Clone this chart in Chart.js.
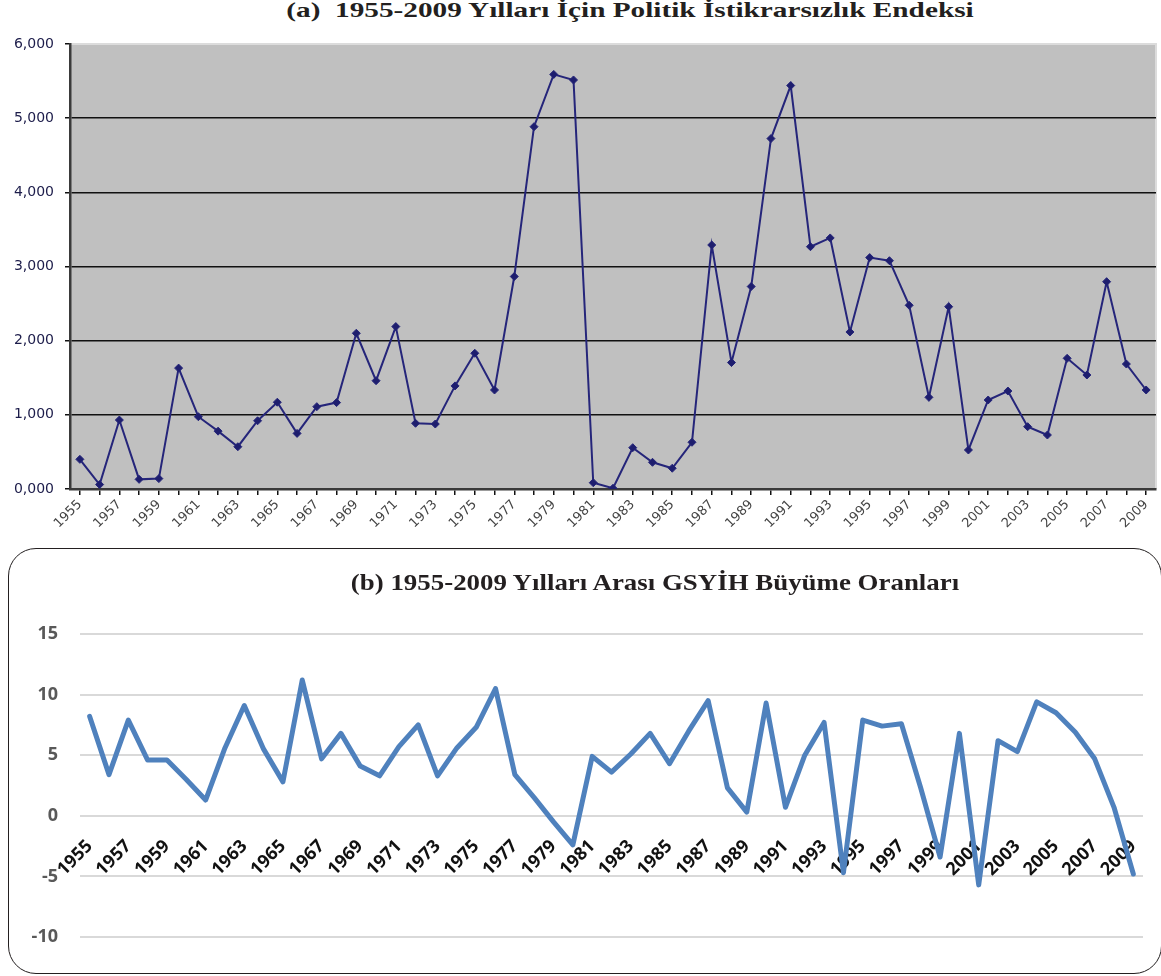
<!DOCTYPE html>
<html>
<head>
<meta charset="utf-8">
<script src="https://cdn.jsdelivr.net/npm/chart.js@4.4.1/dist/chart.umd.min.js"></script>
<style>
  body { margin: 0; background: #fff; overflow: hidden; width: 1161px; height: 976px; position: relative; }
  .title { position: absolute; font-family: "Liberation Serif", "Times New Roman", serif; font-weight: bold; color: #231f20; white-space: pre; line-height: 28px; text-align: center; }
  #titleA { left: 0; width: 1260px; top: -4px; font-size: 22px; transform: scaleX(1.33); transform-origin: 630px 50%; }
  #titleB { left: 0; width: 1310px; top: 568px; font-size: 24px; transform: scaleX(1.12); transform-origin: 655px 50%; z-index: 2; }
  #wrapA { position: absolute; left: 0; top: 0; width: 1161px; height: 540px; }
  #box { position: absolute; left: 8px; top: 548px; width: 1154px; height: 426px; box-sizing: border-box; border: 1.5px solid #231f20; border-radius: 28px; }
  #wrapB { position: absolute; left: 0; top: 548px; width: 1161px; height: 428px; z-index: 1; }
</style>
</head>
<body>
<div class="title" id="titleA">(a)  1955-2009 Yılları İçin Politik İstikrarsızlık Endeksi</div>
<div id="wrapA"><canvas id="chartA"></canvas></div>
<div id="box"></div>
<div class="title" id="titleB">(b) 1955-2009 Yılları Arası GSYİH Büyüme Oranları</div>
<div id="wrapB"><canvas id="chartB"></canvas></div>
<script>
const years = ["1955", "1956", "1957", "1958", "1959", "1960", "1961", "1962", "1963", "1964",
  "1965", "1966", "1967", "1968", "1969", "1970", "1971", "1972", "1973", "1974",
  "1975", "1976", "1977", "1978", "1979", "1980", "1981", "1982", "1983", "1984",
  "1985", "1986", "1987", "1988", "1989", "1990", "1991", "1992", "1993", "1994",
  "1995", "1996", "1997", "1998", "1999", "2000", "2001", "2002", "2003", "2004",
  "2005", "2006", "2007", "2008", "2009"];

// (a) political instability index
const instabilityIndex = [400, 60, 930, 130, 140, 1630, 975, 780, 570, 920,
  1170, 750, 1110, 1165, 2100, 1460, 2190, 886, 876, 1390,
  1830, 1335, 2865, 4885, 5590, 5515, 85, 10, 557, 360,
  280, 630, 3290, 1705, 2730, 4725, 5440, 3267, 3385, 2117,
  3120, 3078, 2477, 1236, 2458, 526, 1200, 1321, 840, 728,
  1762, 1537, 2795, 1685, 1335];
const indexTicks = [0, 1000, 2000, 3000, 4000, 5000, 6000];

// (b) GDP growth rates
const gdpGrowth = [8.2, 3.4, 7.9, 4.6, 4.6, 3.0, 1.3, 5.6, 9.1, 5.5,
  2.8, 11.2, 4.7, 6.8, 4.1, 3.3, 5.7, 7.5, 3.3, 5.6,
  7.3, 10.5, 3.4, 1.5, -0.5, -2.4, 4.9, 3.6, 5.1, 6.8,
  4.3, 7.0, 9.5, 2.3, 0.3, 9.3, 0.7, 5.0, 7.7, -4.7,
  7.9, 7.4, 7.6, 2.3, -3.4, 6.8, -5.7, 6.2, 5.3, 9.4,
  8.5, 6.9, 4.7, 0.7, -4.8];
const growthTicks = [-10, -5, 0, 5, 10, 15];

const greyArea = {
  id: "greyArea",
  beforeDraw(chart) {
    const { ctx, chartArea: a } = chart;
    ctx.save();
    ctx.fillStyle = "#c0c0c0";
    ctx.fillRect(a.left, a.top, a.right - a.left, a.bottom - a.top);
    ctx.strokeStyle = "#dcdcdc";
    ctx.lineWidth = 2;
    ctx.beginPath();
    ctx.moveTo(a.left, a.top);
    ctx.lineTo(a.right, a.top);
    ctx.lineTo(a.right, a.bottom);
    ctx.stroke();
    ctx.restore();
  }
};

const everyOther = function (val, i) {
  return i % 2 === 0 ? this.getLabelForValue(val) : "";
};

new Chart(document.getElementById("chartA"), {
  type: "line",
  data: {
    labels: years,
    datasets: [{
      data: instabilityIndex,
      borderColor: "#25257a",
      backgroundColor: "#1e1e6e",
      borderWidth: 2,
      pointStyle: "rectRot",
      pointRadius: 4,
      pointBorderWidth: 1,
      tension: 0
    }]
  },
  options: {
    responsive: true,
    maintainAspectRatio: false,
    animation: false,
    layout: { padding: { top: 44, right: 4, left: 0, bottom: 0 } },
    plugins: { legend: { display: false }, tooltip: { enabled: false } },
    scales: {
      x: {
        offset: true,
        afterFit: s => { s.height = 51; },
        grid: { drawOnChartArea: false, drawTicks: true, tickLength: 6, tickColor: "#111", lineWidth: 1.5 },
        border: { color: "#3a3a3a", width: 2.5 },
        ticks: {
          autoSkip: false, minRotation: 45, maxRotation: 45, padding: 2,
          color: "#444", font: { family: "DejaVu Sans", size: 13 },
          callback: everyOther
        }
      },
      y: {
        min: 0, max: 6000,
        afterFit: s => { s.width = 70; },
        afterBuildTicks: s => { s.ticks = indexTicks.map(v => ({ value: v })); },
        grid: {
          color: c => (c.tick && c.tick.value === 6000 ? "rgba(0,0,0,0)" : "#111"),
          lineWidth: 1.5, tickLength: 5, tickColor: "#111"
        },
        border: { color: "#3a3a3a", width: 2.5 },
        ticks: {
          padding: 11, color: "#1c1c4a", font: { family: "DejaVu Sans", size: 14 },
          callback: v => (v / 1000).toFixed(3).replace(".", ",")
        }
      }
    }
  },
  plugins: [greyArea]
});

new Chart(document.getElementById("chartB"), {
  type: "line",
  data: {
    labels: years,
    datasets: [{
      data: gdpGrowth,
      borderColor: "#4f81bd",
      borderWidth: 5,
      borderJoinStyle: "round",
      borderCapStyle: "round",
      pointRadius: 0,
      tension: 0
    }]
  },
  options: {
    responsive: true,
    maintainAspectRatio: false,
    animation: false,
    layout: { padding: { top: 86, right: 18, left: 0, bottom: 39 } },
    plugins: { legend: { display: false }, tooltip: { enabled: false } },
    scales: {
      x: {
        position: { y: 0 },
        offset: true,
        afterFit: s => { s.height = 0; },
        grid: { display: false },
        border: { display: false },
        ticks: {
          autoSkip: false, minRotation: 45, maxRotation: 45, padding: 12,
          color: "#111", font: { family: "Open Sans", size: 18, weight: "bold" },
          callback: everyOther
        }
      },
      y: {
        min: -10, max: 15,
        afterFit: s => { s.width = 80; },
        afterBuildTicks: s => { s.ticks = growthTicks.map(v => ({ value: v })); },
        grid: { color: "#d9d9d9", lineWidth: 2, drawTicks: false },
        border: { display: false },
        ticks: {
          padding: 22, color: "#595959", font: { family: "Open Sans", size: 18, weight: "bold" }
        }
      }
    }
  }
});
</script>
</body>
</html>
